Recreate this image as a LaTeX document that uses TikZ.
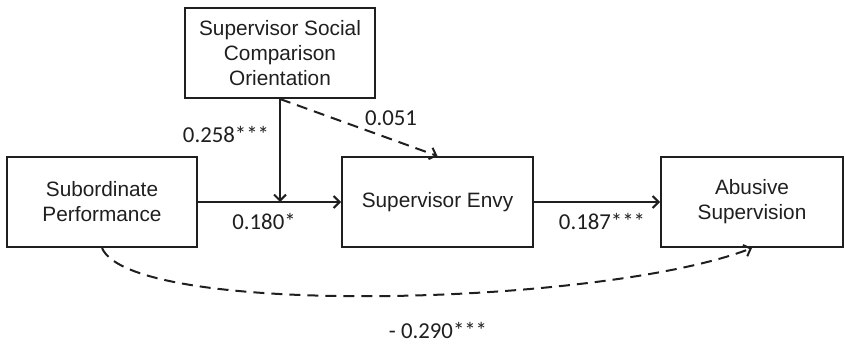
\documentclass[tikz,border=0pt]{standalone}
\usepackage{fontspec}
\setmainfont{Carlito}
\newfontfamily\boxfont{Liberation Sans}
\usetikzlibrary{arrows.meta}

\begin{document}
\begin{tikzpicture}[x=1pt, y=-1pt, black!88,
	box/.style={draw, line width=2pt, align=center, inner sep=0pt,
		minimum height=90pt, font=\boxfont\fontsize{20.8}{25}\selectfont},
	path/.style={line width=2pt, -{Straight Barb[length=6pt, width=12pt]}},
	weak/.style={path, dash pattern=on 11pt off 7pt},
	coef/.style={font=\fontsize{22.8}{26}\selectfont}]
	\useasboundingbox (0, 0) rectangle (845, 344);

	% boxes
	\node[box, minimum width=190pt] (ssco) at (280, 53) {Supervisor Social\\Comparison\\Orientation};
	\node[box, minimum width=190pt] (perf) at (102, 202) {Subordinate\\Performance};
	\node[box, minimum width=191pt] (envy) at (437.5, 202) {Supervisor Envy};
	\node[box, minimum width=182pt] (abuse) at (752, 202) {Abusive\\Supervision};

	% main path
	\draw[path] (perf.east) -- (envy.west);
	\draw[path] (envy.east) -- (abuse.west);

	% moderator
	\coordinate (mod) at (ssco.south |- perf.east);
	\draw[path] (ssco.south) -- (mod);
	\draw[weak] (ssco.south) -- (envy.north);

	% direct effect
	\draw[weak] (perf.south) .. controls +(30, 70) and +(-150, 58) .. (abuse.south);

	% coefficients
	\node[coef] (c1) at (226, 134) {0.258***};
	\node[coef] (c2) at (391, 118) {0.051};
	\node[coef] (c3) at (264, 221) {0.180*};
	\node[coef] (c4) at (602, 221) {0.187***};
	\node[coef] (c5) at (438, 330) {- 0.290***};
\end{tikzpicture}
\end{document}
